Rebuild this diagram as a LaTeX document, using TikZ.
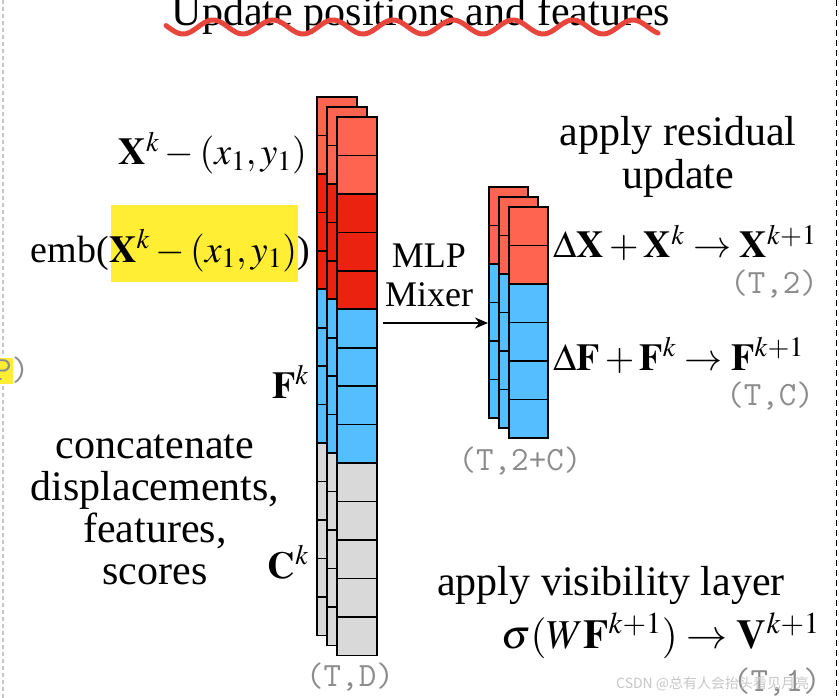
\documentclass[tikz,border=0pt]{standalone}
\usepackage{mathptmx}
\usepackage[no-math]{fontspec}
\setmainfont{Liberation Serif}
\newfontfamily\cjkfont{Noto Sans CJK SC}
\usetikzlibrary{arrows.meta}
\definecolor{lred}{RGB}{255,100,80}
\definecolor{dred}{RGB}{236,34,16}
\definecolor{sblue}{RGB}{85,190,255}
\definecolor{lgray}{RGB}{217,217,217}
\definecolor{hl}{RGB}{255,238,51}
\definecolor{monogray}{RGB}{140,140,140}
\definecolor{wave}{RGB}{232,69,60}
\tikzset{
  txt/.style={font=\fontsize{42}{43}\selectfont, inner sep=0pt},
  mtxt/.style={font=\fontsize{38}{43}\selectfont, inner sep=0pt},
  btxt/.style={font=\fontsize{41}{43}\selectfont, inner sep=0pt},
  small/.style={font=\fontsize{36}{38}\selectfont, inner sep=0pt},
  mono/.style={font=\ttfamily\fontsize{34}{34}\selectfont, text=monogray, inner sep=0pt},
  cell/.style={draw=black, line width=1.6pt},
}
\begin{document}
\begin{tikzpicture}[x=1pt,y=-1pt]
\useasboundingbox (0,0) rectangle (839,698);
% frame dashed lines
\draw[gray!45, line width=2pt, dash pattern=on 4pt off 3pt] (3,0) -- (3,356);
\draw[gray!45, line width=2pt, dash pattern=on 4pt off 3pt] (3,386) -- (3,698);
\draw[black, line width=0.8pt, dash pattern=on 6pt off 4pt] (836,0) -- (836,698);
% title
\node[txt, anchor=base] (title) at (421,26) {Update positions and features};
\draw[wave, line width=5pt, line cap=round] plot[domain=166:658, samples=300] (\x, {27+7*cos((\x-183)/60*360)});
% left fragment
\fill[hl] (0,358) rectangle (13,384);
\node[mono, anchor=base west] (pfrag) at (-6,380) {P)};
% left stack
\foreach \o in {20,10,0}{
  \foreach \c [count=\i from 0] in {lred,lred,dred,dred,dred,sblue,sblue,sblue,sblue,lgray,lgray,lgray,lgray,lgray}{
    \filldraw[cell, fill=\c] ({337-\o},{117-\o+\i*38.45}) rectangle ++(40,38.45);
  }
}
% right stack
\foreach \o in {20,10,0}{
  \foreach \c [count=\i from 0] in {lred,lred,sblue,sblue,sblue,sblue}{
    \filldraw[cell, fill=\c] ({509-\o},{207-\o+\i*38.5}) rectangle ++(39,38.5);
  }
}
% left labels
\fill[hl] (111,205) rectangle (298,282);
\node[mtxt, anchor=base east] (xk) at (307,165) {$\mathbf{X}^k-(x_1,y_1)$};
\node[mtxt, anchor=base east] (emb) at (310,262) {emb($\mathbf{X}^k-(x_1,y_1)$)};
\node[mtxt, anchor=base east] (fk) at (309,398) {$\mathbf{F}^k$};
\node[mtxt, anchor=base east] (ck) at (309,578) {$\mathbf{C}^k$};
\node[txt, anchor=base] (c1) at (155,458) {concatenate};
\node[txt, anchor=base] (c2) at (155,500) {displacements,};
\node[txt, anchor=base] (c3) at (155,542) {features,};
\node[txt, anchor=base] (c4) at (155,584) {scores};
\node[mono, anchor=base] (td) at (350,686) {(T,D)};
% middle
\node[small, anchor=base] (mlp) at (429,268) {MLP};
\node[small, anchor=base] (mixer) at (429,306) {Mixer};
\coordinate (aS) at (383,323);
\coordinate (aE) at (488,323);
\draw[line width=2pt, -{Stealth[length=13pt,width=11pt]}] (aS) -- (aE);
\node[mono, anchor=base] (t2c) at (520,470) {(T,2+C)};
% right labels
\node[txt, anchor=base] (ar1) at (678,146) {apply residual};
\node[txt, anchor=base] (ar2) at (678,189) {update};
\node[mtxt, anchor=base west] (dx) at (553,258) {$\Delta\mathbf{X}+\mathbf{X}^k\rightarrow\mathbf{X}^{k+1}$};
\node[mono, anchor=base east] (t2) at (818,293) {(T,2)};
\node[mtxt, anchor=base west] (df) at (553,370) {$\Delta\mathbf{F}+\mathbf{F}^k\rightarrow\mathbf{F}^{k+1}$};
\node[mono, anchor=base east] (tc) at (814,405) {(T,C)};
\node[txt, anchor=base] (vis) at (611,595) {apply visibility layer};
\node[btxt, anchor=base east] (sig) at (820,648) {$\sigma(W\mathbf{F}^{k+1})\rightarrow\mathbf{V}^{k+1}$};
\node[mono, anchor=base west] (t1) at (733,691) {(T,1)};
\node[font=\cjkfont\fontsize{14}{14}\selectfont, text=gray!45, anchor=base west, inner sep=0pt] (wm) at (616,688) {CSDN @总有人会抬头看见月亮};
\end{tikzpicture}
\end{document}
